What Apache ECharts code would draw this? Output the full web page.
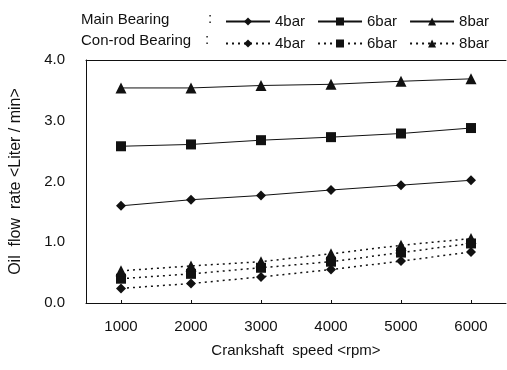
<!DOCTYPE html>
<html>
<head>
<meta charset="utf-8">
<script src="https://cdn.jsdelivr.net/npm/echarts@6/dist/echarts.min.js"></script>
<style>
  html, body { margin: 0; padding: 0; background: #fff; }
  #chart { width: 507px; height: 370px; }
</style>
</head>
<body>
<div id="chart"></div>
<script>
// 데이터
const speeds = ['1000', '2000', '3000', '4000', '5000', '6000'];
const yTicks = [0, 1, 2, 3, 4];

const main4 = [1.60, 1.70, 1.77, 1.86, 1.94, 2.02];
const main6 = [2.58, 2.61, 2.68, 2.73, 2.79, 2.88];
const main8 = [3.54, 3.54, 3.58, 3.60, 3.65, 3.69];
const rod4 = [0.24, 0.32, 0.43, 0.55, 0.69, 0.84];
const rod6 = [0.40, 0.48, 0.58, 0.68, 0.83, 0.98];
const rod8 = [0.53, 0.61, 0.68, 0.81, 0.95, 1.06];

const font = '"Liberation Sans", Arial, sans-serif';
const ink = '#111';

const chart = echarts.init(document.getElementById('chart'));

// 시리즈 생성 함수
const makeSeries = (name, data, symbol, size, dotted) => ({
  name,
  type: 'line',
  data,
  symbol,
  symbolSize: size,
  showSymbol: true,
  itemStyle: { color: ink },
  lineStyle: dotted
    ? { color: ink, width: 1.5, type: [2, 4] }
    : { color: ink, width: 1 },
  animation: false,
});

const legendBase = {
  left: 220,
  itemWidth: 44,
  itemHeight: 10,
  itemGap: 12,
  textStyle: { fontFamily: font, fontSize: 15, color: ink },
  formatter: (name) => name.split(' ').pop(),
  selectedMode: false,
};

const option = {
  backgroundColor: '#fff',
  animation: false,
  legend: [
    Object.assign({}, legendBase, { top: 9, data: ['Main 4bar', 'Main 6bar', 'Main 8bar'] }),
    Object.assign({}, legendBase, { top: 31, data: ['Rod 4bar', 'Rod 6bar', 'Rod 8bar'] }),
  ],
  graphic: [
    { type: 'text', left: 81, top: 12, style: { text: 'Main Bearing', font: '15px ' + font, fill: ink } },
    { type: 'text', left: 208, top: 11, style: { text: ':', font: '15px ' + font, fill: ink } },
    { type: 'text', left: 81, top: 33, style: { text: 'Con-rod Bearing', font: '15px ' + font, fill: ink } },
    { type: 'text', left: 205, top: 32, style: { text: ':', font: '15px ' + font, fill: ink } },
  ],
  grid: { left: 83, right: 1, top: 60, bottom: 67 },
  xAxis: [
    {
      type: 'category',
      data: speeds,
      boundaryGap: true,
      name: 'Crankshaft  speed <rpm>',
      nameLocation: 'middle',
      nameGap: 40,
      nameTextStyle: { fontFamily: font, fontSize: 15, color: ink },
      axisLine: { lineStyle: { color: ink, width: 1 } },
      axisTick: { show: true, alignWithLabel: true, inside: true, length: 3, lineStyle: { color: ink } },
      axisLabel: { fontFamily: font, fontSize: 15, color: ink, margin: 16 },
      splitLine: { show: false },
    },
    {
      type: 'category',
      data: speeds,
      position: 'top',
      axisLine: { lineStyle: { color: ink, width: 1 } },
      axisTick: { show: false },
      axisLabel: { show: false },
    },
  ],
  yAxis: {
    type: 'value',
    min: yTicks[0],
    max: yTicks[yTicks.length - 1],
    interval: 1,
    name: 'Oil  flow  rate <Liter / min>',
    nameLocation: 'middle',
    nameGap: 62,
    nameTextStyle: { fontFamily: font, fontSize: 16, color: ink },
    axisLine: { show: true, lineStyle: { color: ink, width: 1 } },
    axisTick: { show: false },
    axisLabel: {
      fontFamily: font,
      fontSize: 15,
      color: ink,
      margin: 21,
      formatter: (v) => v.toFixed(1),
    },
    splitLine: { show: false },
  },
  series: [
    makeSeries('Main 4bar', main4, 'diamond', [10, 10], false),
    makeSeries('Main 6bar', main6, 'rect', 10, false),
    makeSeries('Main 8bar', main8, 'triangle', 11, false),
    makeSeries('Rod 4bar', rod4, 'diamond', [10, 10], true),
    makeSeries('Rod 6bar', rod6, 'rect', 10, true),
    makeSeries('Rod 8bar', rod8, 'triangle', 11, true),
  ],
};

chart.setOption(option);
</script>
</body>
</html>
